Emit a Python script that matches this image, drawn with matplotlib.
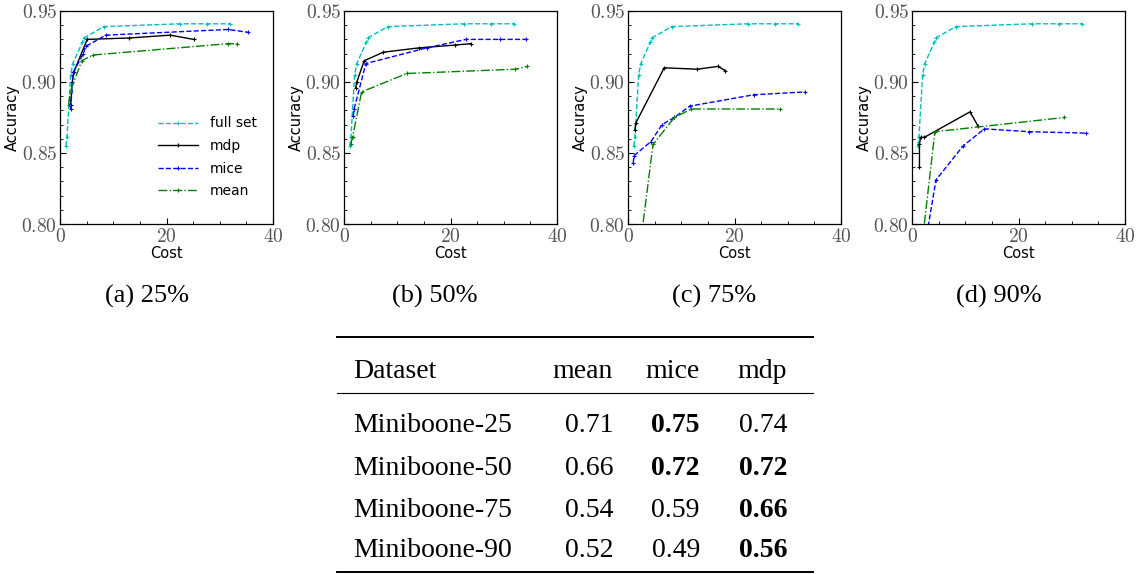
import numpy as np
import matplotlib
matplotlib.use("Agg")
import matplotlib.pyplot as plt
from matplotlib.lines import Line2D
from matplotlib.ticker import FuncFormatter, MultipleLocator

plt.rcParams['mathtext.fontset'] = 'cm'
plt.rcParams['font.family'] = 'DejaVu Sans'

# ---- data ----
captions = ['(a) 25%', '(b) 50%', '(c) 75%', '(d) 90%']
series = ['full set', 'mdp', 'mice', 'mean']

# full set is the same curve in every panel
full_x = [1.1, 1.3, 2.0, 2.4, 4.2, 4.5, 8.2, 22.6, 27.6, 32.0]
full_y = [0.855, 0.861, 0.905, 0.913, 0.928, 0.931, 0.939, 0.941, 0.941, 0.941]

mdp_x = [[2.0, 2.3, 2.6, 5.1, 13.0, 20.7, 25.1],
         [2.2, 2.4, 3.8, 7.4, 14.0, 20.8, 23.8],
         [1.3, 1.45, 6.8, 13.0, 16.9, 18.3],
         [1.4, 1.4, 1.6, 2.3, 10.9, 12.4]]
mdp_y = [[0.884, 0.900, 0.907, 0.930, 0.931, 0.933, 0.930],
         [0.896, 0.900, 0.915, 0.921, 0.924, 0.926, 0.927],
         [0.866, 0.871, 0.910, 0.909, 0.911, 0.908],
         [0.840, 0.856, 0.861, 0.861, 0.879, 0.869]]

mice_x = [[2.0, 2.5, 4.4, 4.8, 8.6, 31.6, 35.3],
          [1.75, 1.9, 4.1, 15.5, 22.9, 29.3, 34.2],
          [1.0, 1.1, 4.3, 6.4, 8.7, 11.6, 23.6, 33.2],
          [2.8, 4.5, 9.6, 13.6, 22.0, 32.7]]
mice_y = [[0.881, 0.907, 0.920, 0.925, 0.933, 0.937, 0.935],
          [0.876, 0.881, 0.913, 0.924, 0.930, 0.930, 0.930],
          [0.843, 0.848, 0.858, 0.870, 0.875, 0.883, 0.891, 0.893],
          [0.793, 0.831, 0.855, 0.867, 0.865, 0.864]]

mean_x = [[1.6, 2.0, 4.1, 6.2, 31.6, 33.2],
          [1.25, 1.6, 3.3, 11.8, 32.2, 34.4],
          [2.5, 4.7, 8.7, 11.9, 28.6],
          [2.0, 4.3, 28.6]]
mean_y = [[0.884, 0.894, 0.915, 0.919, 0.927, 0.927],
          [0.856, 0.861, 0.893, 0.906, 0.909, 0.911],
          [0.791, 0.856, 0.875, 0.881, 0.881],
          [0.790, 0.865, 0.875]]

# table
tab_header = ['Dataset', 'mean', 'mice', 'mdp']
tab_rows = ['Miniboone-25', 'Miniboone-50', 'Miniboone-75', 'Miniboone-90']
tab_vals = [['0.71', '0.75', '0.74'],
            ['0.66', '0.72', '0.72'],
            ['0.54', '0.59', '0.66'],
            ['0.52', '0.49', '0.56']]
tab_bold = [[False, True, False],
            [False, True, True],
            [False, False, True],
            [False, False, True]]

W, H = 1136, 574
fig = plt.figure(figsize=(W / 100, H / 100), dpi=100)

def fx(px):
    return px / W

def fy(py):
    return 1 - py / H

lefts = [60, 344, 628, 912]
cap_x = [147, 435, 714, 999]
styles = {'full set': ('c', '--'), 'mdp': ('k', '-'), 'mice': ('b', '--'), 'mean': ('g', '-.')}
tickfmt = FuncFormatter(lambda v, p: r'$%g$' % v)
tickfmt_y = FuncFormatter(lambda v, p: r'$%.2f$' % v)

for i in range(4):
    ax = fig.add_axes([fx(lefts[i]), fy(224), 213 / W, (224 - 11) / H])
    data = {'full set': (full_x, full_y),
            'mdp': (mdp_x[i], mdp_y[i]),
            'mice': (mice_x[i], mice_y[i]),
            'mean': (mean_x[i], mean_y[i])}
    for name in series:
        c, ls = styles[name]
        ax.plot(data[name][0], data[name][1], color=c, ls=ls, lw=1.0,
                marker='+', ms=3.5, mew=0.8, label=name)
    ax.set_xlim(0, 40)
    ax.set_ylim(0.80, 0.95)
    ax.xaxis.set_major_locator(MultipleLocator(20))
    ax.xaxis.set_minor_locator(MultipleLocator(5))
    ax.yaxis.set_major_locator(MultipleLocator(0.05))
    ax.yaxis.set_minor_locator(MultipleLocator(0.01))
    ax.xaxis.set_major_formatter(tickfmt)
    ax.yaxis.set_major_formatter(tickfmt_y)
    ax.tick_params(which='both', direction='in', top=False, right=False,
                   labelsize=14, labelcolor='#555555', pad=2)
    ax.tick_params(which='major', length=4, width=0.8)
    ax.tick_params(which='minor', length=2, width=0.6)
    ax.set_xlabel('Cost', fontsize=10.5, labelpad=0)
    ax.set_ylabel('Accuracy', fontsize=10.5, labelpad=1)
    for s in ax.spines.values():
        s.set_linewidth(0.9)
    if i == 0:
        ax.legend(loc='upper left', bbox_to_anchor=(0.46, 0.505), frameon=False,
                  fontsize=10, handlelength=2.9, handletextpad=0.85,
                  labelspacing=0.62, borderpad=0, borderaxespad=0)
    fig.text(fx(cap_x[i]), fy(296), captions[i], ha='center', va='center',
             family='Liberation Serif', fontsize=19)

# ---- table ----
tfont = dict(family='Liberation Serif', fontsize=20)
fig.add_artist(Line2D([fx(337), fx(813)], [fy(337), fy(337)], color='k', lw=1.4))
fig.add_artist(Line2D([fx(337), fx(813)], [fy(393), fy(393)], color='k', lw=0.8))
fig.add_artist(Line2D([fx(337), fx(813)], [fy(572), fy(572)], color='k', lw=1.4))

col_right = [613, 700, 787]
fig.text(fx(353), fy(378), tab_header[0], ha='left', va='baseline', **tfont)
for j in range(3):
    fig.text(fx(col_right[j]), fy(378), tab_header[j + 1], ha='right', va='baseline', **tfont)

row_base = [432, 475, 517, 557]
for r in range(4):
    fig.text(fx(353), fy(row_base[r]), tab_rows[r], ha='left', va='baseline', **tfont)
    for j in range(3):
        fig.text(fx(col_right[j]), fy(row_base[r]), tab_vals[r][j], ha='right', va='baseline',
                 fontweight='bold' if tab_bold[r][j] else 'normal', **tfont)

fig.savefig('out.png', dpi=100)
